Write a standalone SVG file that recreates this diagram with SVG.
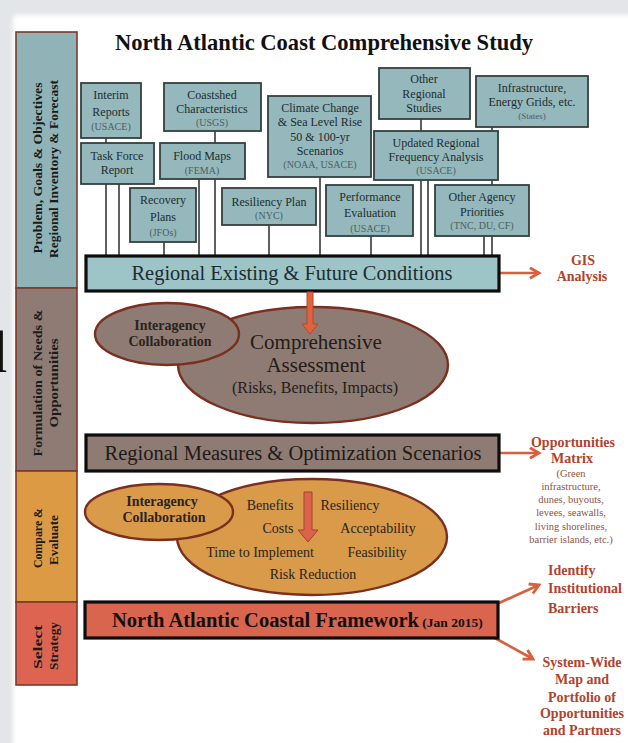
<svg xmlns="http://www.w3.org/2000/svg" width="628" height="743" viewBox="0 0 628 743">
  <defs>
    <filter id="soft" x="-5%" y="-5%" width="110%" height="110%">
      <feGaussianBlur stdDeviation="2"/>
    </filter>
    <marker id="chev" viewBox="0 0 10 10" refX="8" refY="5" markerWidth="5" markerHeight="5" orient="auto" markerUnits="strokeWidth">
      <path d="M1,1 L8,5 L1,9" fill="none" stroke="#d9603f" stroke-width="2.2" stroke-linejoin="miter"/>
    </marker>
    <style>
      .serif { font-family: "Liberation Serif", "Times New Roman", serif; }
      .box rect { fill: #94b8bb; stroke: #34403f; stroke-width: 1.8; }
      .box text { font-family: "Liberation Serif", serif; font-size: 12px; fill: #1e2d30; text-anchor: middle; }
      .box text.src { font-size: 10px; fill: #4d5f63; }
      .bar { stroke: #0d0d0d; stroke-width: 3.2; }
      .side { stroke: #7b3a2c; stroke-width: 1.6; }
      .sidetxt { font-family: "Liberation Serif", serif; font-weight: bold; font-size: 12.5px; fill: #1a1a1a; text-anchor: middle; }
      .ell { stroke: #7a2f1f; stroke-width: 2.4; }
      .wire { stroke: #2a2a2a; stroke-width: 1.5; fill: none; }
      .out { stroke: #d9603f; stroke-width: 2.6; fill: none; marker-end: url(#chev); }
      .flow { stroke-width: 1; }
      .note { font-family: "Liberation Serif", serif; font-weight: bold; font-size: 14px; fill: #b0432e; text-anchor: middle; }
      .lead { text-anchor: start; }
      .fine { font-family: "Liberation Serif", serif; font-size: 10.5px; fill: #8f5244; text-anchor: middle; }
      .etxt { font-family: "Liberation Serif", serif; font-size: 14px; fill: #2a2420; text-anchor: middle; }
      .collab { font-family: "Liberation Serif", serif; font-weight: bold; font-size: 14px; fill: #2a2420; text-anchor: middle; }
    </style>
  </defs>

  <!-- page backdrop -->
  <rect x="0" y="0" width="628" height="743" fill="#e3e6e8"/>
  <rect x="13" y="15" width="720" height="800" rx="4" fill="#ffffff" filter="url(#soft)"/>
  <text class="serif" x="-23" y="372" font-size="60" fill="#111">d</text>

  <!-- title -->
  <text class="serif" x="115" y="50" font-size="23" font-weight="bold" fill="#111" textLength="418" lengthAdjust="spacingAndGlyphs">North Atlantic Coast Comprehensive Study</text>

  <!-- phase sidebar -->
  <g id="phase-inventory">
    <rect class="side" x="16" y="32" width="61" height="256" fill="#8fb3b6"/>
    <text class="sidetxt" transform="translate(42,168) rotate(-90)" textLength="171" lengthAdjust="spacingAndGlyphs">Problem, Goals &amp; Objectives</text>
    <text class="sidetxt" transform="translate(58,169) rotate(-90)" textLength="178" lengthAdjust="spacingAndGlyphs">Regional Inventory &amp; Forecast</text>
  </g>
  <g id="phase-formulation">
    <rect class="side" x="16" y="288" width="61" height="183" fill="#8e7b73"/>
    <text class="sidetxt" transform="translate(42,383) rotate(-90)" textLength="147" lengthAdjust="spacingAndGlyphs">Formulation of Needs &amp;</text>
    <text class="sidetxt" transform="translate(58,383) rotate(-90)" textLength="89" lengthAdjust="spacingAndGlyphs">Opportunities</text>
  </g>
  <g id="phase-compare">
    <rect class="side" x="16" y="471" width="61" height="131" fill="#dc9a45"/>
    <text class="sidetxt" transform="translate(42,538) rotate(-90)" textLength="60" lengthAdjust="spacingAndGlyphs">Compare &amp;</text>
    <text class="sidetxt" transform="translate(58,540) rotate(-90)" textLength="50" lengthAdjust="spacingAndGlyphs">Evaluate</text>
  </g>
  <g id="phase-select">
    <rect class="side" x="16" y="602" width="61" height="83" fill="#dc6450"/>
    <text class="sidetxt" transform="translate(42,647) rotate(-90)" textLength="44" lengthAdjust="spacingAndGlyphs">Select</text>
    <text class="sidetxt" transform="translate(58,646) rotate(-90)" textLength="48" lengthAdjust="spacingAndGlyphs">Strategy</text>
  </g>

  <!-- connectors -->
  <g id="connectors">
    <line class="wire" x1="106" y1="138" x2="106" y2="143"/>
    <line class="wire" x1="106" y1="184" x2="106" y2="256"/>
    <line class="wire" x1="119" y1="184" x2="119" y2="256"/>
    <line class="wire" x1="164" y1="242" x2="164" y2="256"/>
    <line class="wire" x1="215" y1="131" x2="215" y2="143"/>
    <line class="wire" x1="199" y1="179" x2="199" y2="256"/>
    <line class="wire" x1="215" y1="179" x2="215" y2="256"/>
    <line class="wire" x1="269" y1="225" x2="269" y2="256"/>
    <line class="wire" x1="320" y1="177" x2="320" y2="256"/>
    <line class="wire" x1="371" y1="236" x2="371" y2="256"/>
    <line class="wire" x1="421" y1="119" x2="421" y2="131"/>
    <line class="wire" x1="421" y1="180" x2="421" y2="256"/>
    <line class="wire" x1="428" y1="180" x2="428" y2="256"/>
    <line class="wire" x1="492" y1="127" x2="492" y2="131"/>
    <line class="wire" x1="492" y1="180" x2="492" y2="185"/>
    <line class="wire" x1="484" y1="236" x2="484" y2="256"/>
    <line class="wire" x1="492" y1="236" x2="492" y2="256"/>

    <!-- outputs -->
    <line class="out" x1="500" y1="273" x2="539" y2="273"/>
    <line class="out" x1="500" y1="453" x2="539" y2="453"/>
    <line class="out" x1="499" y1="603" x2="539" y2="585"/>
    <line class="out" x1="493" y1="637" x2="533" y2="659"/>
  </g>

  <!-- data sources -->
  <g id="interim-reports" class="box">
    <rect x="81" y="83" width="60" height="55"/>
    <text x="111" y="99">Interim</text>
    <text x="111" y="116">Reports</text>
    <text class="src" x="111" y="130">(USACE)</text>
  </g>
  <g id="task-force-report" class="box">
    <rect x="81" y="143" width="73" height="41"/>
    <text x="117" y="160">Task Force</text>
    <text x="117" y="174">Report</text>
  </g>
  <g id="coastshed" class="box">
    <rect x="164" y="83" width="97" height="48"/>
    <text x="212" y="99">Coastshed</text>
    <text x="212" y="113">Characteristics</text>
    <text class="src" x="212" y="126">(USGS)</text>
  </g>
  <g id="flood-maps" class="box">
    <rect x="160" y="143" width="85" height="36"/>
    <text x="202" y="160">Flood Maps</text>
    <text class="src" x="202" y="174">(FEMA)</text>
  </g>
  <g id="recovery-plans" class="box">
    <rect x="130" y="188" width="66" height="54"/>
    <text x="163" y="204">Recovery</text>
    <text x="163" y="221">Plans</text>
    <text class="src" x="163" y="236">(JFOs)</text>
  </g>
  <g id="resiliency-plan" class="box">
    <rect x="222" y="188" width="94" height="37"/>
    <text x="269" y="206">Resiliency Plan</text>
    <text class="src" x="269" y="219">(NYC)</text>
  </g>
  <g id="climate-change" class="box">
    <rect x="268" y="96" width="103" height="81"/>
    <text x="320" y="112">Climate Change</text>
    <text x="320" y="126">&amp; Sea Level Rise</text>
    <text x="320" y="141">50 &amp; 100-yr</text>
    <text x="320" y="155">Scenarios</text>
    <text class="src" x="320" y="168">(NOAA, USACE)</text>
  </g>
  <g id="performance-evaluation" class="box">
    <rect x="326" y="185" width="87" height="51"/>
    <text x="370" y="201">Performance</text>
    <text x="370" y="217">Evaluation</text>
    <text class="src" x="370" y="232">(USACE)</text>
  </g>
  <g id="other-regional-studies" class="box">
    <rect x="379" y="68" width="91" height="51"/>
    <text x="424" y="83">Other</text>
    <text x="424" y="98">Regional</text>
    <text x="424" y="112">Studies</text>
  </g>
  <g id="updated-frequency" class="box">
    <rect x="374" y="131" width="124" height="49"/>
    <text x="436" y="147">Updated Regional</text>
    <text x="436" y="161">Frequency Analysis</text>
    <text class="src" x="436" y="174">(USACE)</text>
  </g>
  <g id="infrastructure" class="box">
    <rect x="476" y="76" width="112" height="51"/>
    <text x="532" y="92">Infrastructure,</text>
    <text x="532" y="106">Energy Grids, etc.</text>
    <text class="src" x="532" y="119" style="font-size:9px">(States)</text>
  </g>
  <g id="other-agency" class="box">
    <rect x="435" y="185" width="94" height="51"/>
    <text x="482" y="201">Other Agency</text>
    <text x="482" y="216">Priorities</text>
    <text class="src" x="482" y="229">(TNC, DU, CF)</text>
  </g>

  <!-- regional existing & future conditions -->
  <g id="existing-conditions">
    <rect class="bar" x="86" y="256" width="413" height="35" fill="#9dc4c7"/>
    <text class="serif" x="292" y="280" font-size="20" fill="#1e2d30" text-anchor="middle" textLength="321" lengthAdjust="spacingAndGlyphs">Regional Existing &amp; Future Conditions</text>
  </g>
  <g id="gis-analysis">
    <text class="note" x="583" y="265">GIS</text>
    <text class="note" x="582" y="281">Analysis</text>
  </g>

  <!-- comprehensive assessment -->
  <g id="comprehensive-assessment">
    <ellipse class="ell" cx="313" cy="365" rx="135" ry="58" fill="#8e7b73"/>
    <text class="serif" x="316" y="349" font-size="21" fill="#241c18" text-anchor="middle">Comprehensive</text>
    <text class="serif" x="316" y="372" font-size="21" fill="#241c18" text-anchor="middle">Assessment</text>
    <text class="serif" x="315" y="393" font-size="16" fill="#241c18" text-anchor="middle">(Risks, Benefits, Impacts)</text>
  </g>
  <g id="collaboration-1">
    <ellipse class="ell" cx="167" cy="334" rx="72" ry="31" fill="#8e7b73"/>
    <text class="collab" x="170" y="330">Interagency</text>
    <text class="collab" x="170" y="346">Collaboration</text>
  </g>
  <!-- flow arrow into the assessment -->
  <polygon class="flow" points="307,292 313,292 313,324 318,324 310,334 302,324 307,324" fill="#e0623f" stroke="#b8462c"/>

  <!-- regional measures -->
  <g id="regional-measures">
    <rect class="bar" x="86" y="435" width="413" height="36" fill="#8e7b73"/>
    <text class="serif" x="293" y="460" font-size="20" fill="#1f1a17" text-anchor="middle" textLength="377" lengthAdjust="spacingAndGlyphs">Regional Measures &amp; Optimization Scenarios</text>
  </g>
  <g id="opportunities-matrix">
    <text class="note" x="573" y="447">Opportunities</text>
    <text class="note" x="572" y="463">Matrix</text>
    <text class="fine" x="571" y="477">(Green</text>
    <text class="fine" x="571" y="490">infrastructure,</text>
    <text class="fine" x="571" y="503">dunes, buyouts,</text>
    <text class="fine" x="571" y="516">levees, seawalls,</text>
    <text class="fine" x="571" y="530">living shorelines,</text>
    <text class="fine" x="571" y="543">barrier islands, etc.)</text>
  </g>

  <!-- evaluation -->
  <g id="evaluation">
    <ellipse class="ell" cx="312" cy="537" rx="135" ry="58" fill="#d99a4a"/>
    <text class="etxt" x="270" y="510">Benefits</text>
    <text class="etxt" x="350" y="510">Resiliency</text>
    <text class="etxt" x="278" y="533">Costs</text>
    <text class="etxt" x="378" y="533">Acceptability</text>
    <text class="etxt" x="260" y="557">Time to Implement</text>
    <text class="etxt" x="377" y="557">Feasibility</text>
    <text class="etxt" x="313" y="579">Risk Reduction</text>
    <polygon class="flow" points="304,492 312,492 312,530 318,530 308,542 298,530 304,530" fill="#d9634c" stroke="#a8402e"/>
  </g>
  <g id="collaboration-2">
    <ellipse class="ell" cx="159" cy="512" rx="74" ry="28" fill="#d99a4a"/>
    <text class="collab" x="162" y="506">Interagency</text>
    <text class="collab" x="164" y="522">Collaboration</text>
  </g>

  <!-- framework -->
  <g id="framework">
    <rect class="bar" x="85" y="602" width="413" height="36" fill="#d9654e"/>
    <text class="serif" x="112" y="627" font-weight="bold" fill="#141010" font-size="20.5">North Atlantic Coastal Framework<tspan font-size="13.5"> (Jan 2015)</tspan></text>
  </g>
  <g id="institutional-barriers">
    <text class="note lead" x="548" y="575">Identify</text>
    <text class="note lead" x="548" y="593">Institutional</text>
    <text class="note lead" x="548" y="613">Barriers</text>
  </g>
  <g id="system-wide-map">
    <text class="note" x="582" y="667">System-Wide</text>
    <text class="note" x="582" y="684">Map and</text>
    <text class="note" x="582" y="702">Portfolio of</text>
    <text class="note" x="582" y="718">Opportunities</text>
    <text class="note" x="582" y="735">and Partners</text>
  </g>
</svg>
